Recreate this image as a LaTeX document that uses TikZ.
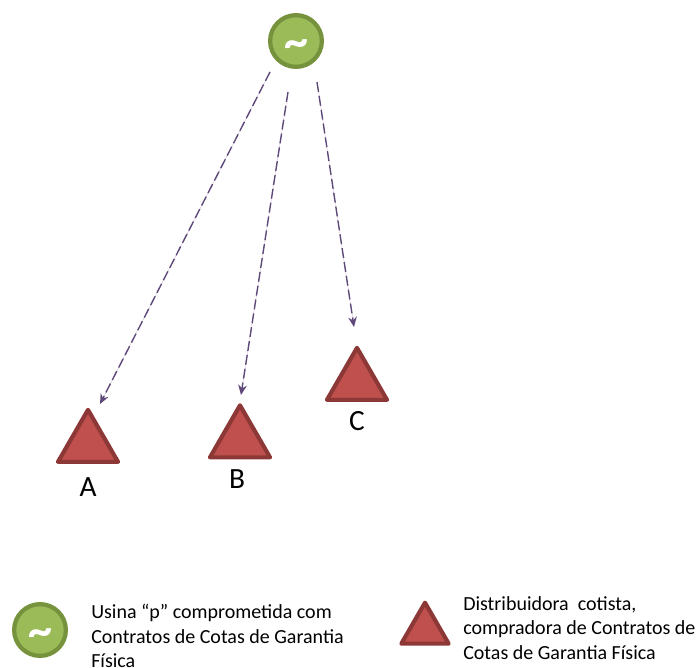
\documentclass[tikz,border=0pt]{standalone}
\usepackage{fontspec}
\setmainfont{Carlito}
\usetikzlibrary{shapes, arrows.meta}
\definecolor{usinafill}{HTML}{9BBB59}
\definecolor{usinaline}{HTML}{76923C}
\definecolor{cotafill}{HTML}{C0504D}
\definecolor{cotaline}{HTML}{8C3836}
\definecolor{fluxo}{HTML}{5F497A}
\newcommand{\onda}{\smash{\raisebox{-12.5pt}{\textasciitilde}}}
\tikzset{
  usina/.style={circle, draw=usinaline, fill=usinafill, line width=3.2pt, minimum size=38.8pt, inner sep=0pt, text=white, font=\fontsize{36}{36}\selectfont\bfseries},
  cota/.style={regular polygon, regular polygon sides=3, draw=cotaline, fill=cotafill, line width=3.1pt, line join=round, minimum size=52pt, inner sep=0pt},
  letra/.style={font=\fontsize{22}{22}\selectfont, inner sep=0pt},
  legenda/.style={anchor=west, align=left, inner sep=0pt, font=\fontsize{15}{18.3}\selectfont},
  fluxo/.style={-{Stealth[length=7.5pt, width=6.5pt]}, draw=fluxo, fill=fluxo, line width=1.05pt, dash pattern=on 7.5pt off 3pt}
}

\begin{document}
\begin{tikzpicture}[x=0.75pt, y=-0.75pt]
\useasboundingbox (0,0) rectangle (697,668);
\node[usina] (u) at (296,41) {\onda};
\node[cota] (a) at (88,444.5) {};
\node[cota] (b) at (240,440) {};
\node[cota] (c) at (357,382.5) {};
\node[letra] (la) at (88,487) {A};
\node[letra] (lb) at (237,479) {B};
\node[letra] (lc) at (357,421) {C};
\coordinate (ua) at (270,72);
\coordinate (ub) at (288,92);
\coordinate (uc) at (317,82);
\coordinate (ta) at (100,404);
\coordinate (tb) at (241,395);
\coordinate (tc) at (354,327);
\draw[fluxo] (ua) -- (ta);
\draw[fluxo] (ub) -- (tb);
\draw[fluxo] (uc) -- (tc);
\node[usina] (lu) at (40,630) {\onda};
\node[cota, minimum size=41pt] (lt) at (425,630) {};
\node[legenda] (tu) at (91,636) {Usina “p” comprometida com\\Contratos de Cotas de Garantia\\Física};
\node[legenda] (tt) at (463,628) {Distribuidora \ cotista,\\compradora de Contratos de\\Cotas de Garantia Física};
\end{tikzpicture}
\end{document}
